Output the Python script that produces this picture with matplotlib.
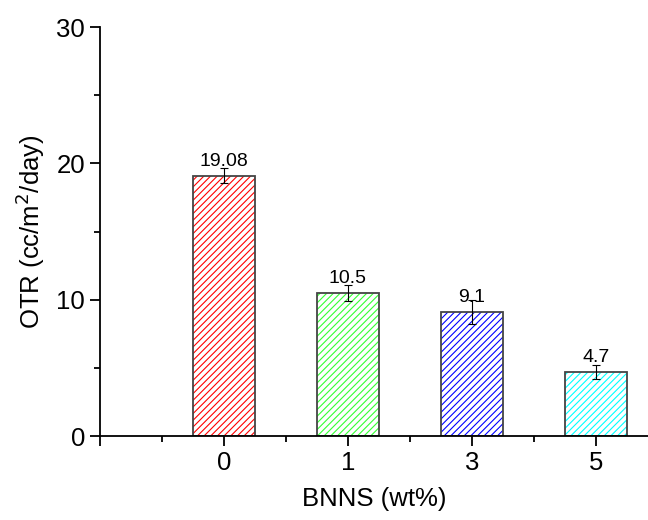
import numpy as np
import matplotlib
matplotlib.use("Agg")
import matplotlib.pyplot as plt
from matplotlib.ticker import MultipleLocator

plt.rcParams['font.family'] = ['Liberation Sans', 'DejaVu Sans']
plt.rcParams['hatch.linewidth'] = 0.8

# data
categories = ["0", "1", "3", "5"]
otr = [19.08, 10.5, 9.1, 4.7]
err = [0.55, 0.6, 0.85, 0.5]
labels = ["19.08", "10.5", "9.1", "4.7"]
colors = ["#ff0000", "#33ff33", "#0000ff", "#00ffff"]

x = np.arange(1, len(categories) + 1)

fig = plt.figure(figsize=(6.48, 5.2), dpi=100)
ax = fig.add_axes([0.154, 0.1615, 0.846, 0.7865])

for xi, v, c in zip(x, otr, colors):
    ax.bar(xi, v, width=0.5, color="none", edgecolor=c, hatch="/////", linewidth=0)
ax.bar(x, otr, width=0.5, fill=False, edgecolor="#444444", linewidth=1.3)
ax.errorbar(x, otr, yerr=err, fmt="none", ecolor="black", elinewidth=0.8,
            capsize=3, capthick=0.8)

for xi, v, t in zip(x, otr, labels):
    ax.text(xi, v + 0.45, t, ha="center", va="bottom", fontsize=14)

ax.set_xlim(0, 4.42)
ax.set_ylim(0, 30)
ax.set_xticks([0, 1, 2, 3, 4])
ax.set_xticklabels([""] + categories)
ax.xaxis.set_minor_locator(MultipleLocator(0.5))
ax.yaxis.set_major_locator(MultipleLocator(10))
ax.yaxis.set_minor_locator(MultipleLocator(5))

ax.spines["top"].set_visible(False)
ax.spines["right"].set_visible(False)
ax.spines["left"].set_linewidth(1.3)
ax.spines["bottom"].set_linewidth(1.3)
ax.tick_params(which="major", direction="out", length=7, width=1.3, labelsize=18.5)
ax.tick_params(which="minor", direction="out", length=4, width=1.3)

ax.set_xlabel("BNNS (wt%)", fontsize=18.5, labelpad=9)
ax.set_ylabel("OTR (cc/m$^2$/day)", fontsize=18.5, labelpad=7)

fig.savefig("out.png", dpi=100)
